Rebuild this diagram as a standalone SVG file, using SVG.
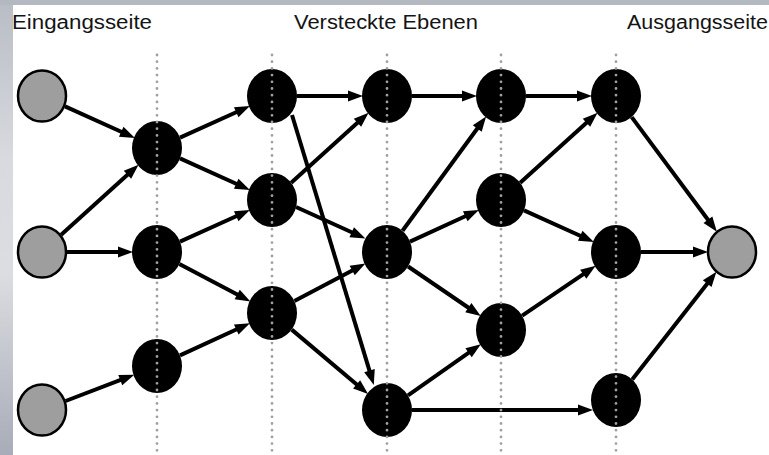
<svg xmlns="http://www.w3.org/2000/svg" width="769" height="455" viewBox="0 0 769 455">
  <defs>
    <linearGradient id="side" x1="0" y1="0" x2="0" y2="1">
      <stop offset="0" stop-color="#b8bcc4"/>
      <stop offset="0.35" stop-color="#d8dadf"/>
      <stop offset="0.6" stop-color="#dcdde1"/>
      <stop offset="1" stop-color="#a8acb8"/>
    </linearGradient>
    <marker id="arr" markerUnits="userSpaceOnUse" markerWidth="18" markerHeight="12" refX="6" refY="5.5" orient="auto" overflow="visible">
      <path d="M0,0 L15,5.5 L0,11 z" fill="#000"/>
    </marker>
    <style>
      .lbl { font-family: "Liberation Sans", Arial, sans-serif; font-size: 20px; fill: #141414; }
      .hid { fill: #000; }
      .io { fill: #9e9e9e; stroke: #000; stroke-width: 2.5; }
      .edge { stroke: #000; stroke-width: 4; fill: none; marker-end: url(#arr); }
      .dots { stroke: #a0a0a0; stroke-width: 2.8; stroke-linecap: round; stroke-dasharray: 0 6.7; fill: none; }
    </style>
  </defs>

  <!-- frame -->
  <rect x="0" y="0" width="769" height="455" fill="#ffffff"/>
  <rect x="0" y="0" width="13" height="455" fill="url(#side)"/>
  <rect x="0" y="0" width="769" height="5" fill="#b4b8c0"/>

  <!-- labels -->
  <g id="labels">
    <text class="lbl" x="12" y="29" textLength="140" lengthAdjust="spacingAndGlyphs">Eingangsseite</text>
    <text class="lbl" x="294" y="29" textLength="184" lengthAdjust="spacingAndGlyphs">Versteckte Ebenen</text>
    <text class="lbl" x="627" y="29" textLength="141" lengthAdjust="spacingAndGlyphs">Ausgangsseite</text>
  </g>

  <!-- connectors -->
  <g id="connectors">
    <line class="edge" x1="65" y1="106.4" x2="126.7" y2="134.3"/>
    <line class="edge" x1="61.2" y1="234.7" x2="131.9" y2="170.7"/>
    <line class="edge" x1="67" y1="252" x2="124" y2="252"/>
    <line class="edge" x1="65.6" y1="401" x2="125.9" y2="377.9"/>

    <line class="edge" x1="180" y1="137.6" x2="241.7" y2="109.7"/>
    <line class="edge" x1="180" y1="158.4" x2="241.7" y2="186.3"/>
    <line class="edge" x1="180" y1="241.6" x2="241.7" y2="213.7"/>
    <line class="edge" x1="179.4" y1="263.9" x2="242.5" y2="297.3"/>
    <line class="edge" x1="180" y1="355.4" x2="241.7" y2="327"/>

    <line class="edge" x1="297" y1="96" x2="354" y2="96"/>
    <line class="edge" x1="292" y1="115" x2="371.2" y2="376.3"/>
    <line class="edge" x1="291.2" y1="182.7" x2="361.9" y2="118.7"/>
    <line class="edge" x1="296" y1="207" x2="357.2" y2="234.7"/>
    <line class="edge" x1="294.4" y1="301.1" x2="357.5" y2="267.7"/>
    <line class="edge" x1="291.7" y1="329.6" x2="361.2" y2="388.2"/>

    <line class="edge" x1="412" y1="96" x2="468" y2="96"/>
    <line class="edge" x1="402.5" y1="230.8" x2="480.8" y2="123.7"/>
    <line class="edge" x1="410" y1="241.6" x2="470.7" y2="213.7"/>
    <line class="edge" x1="408.1" y1="266.5" x2="473.3" y2="311"/>
    <line class="edge" x1="408" y1="395.3" x2="473.5" y2="349.3"/>
    <line class="edge" x1="412" y1="410" x2="584" y2="410"/>

    <line class="edge" x1="526" y1="96" x2="583" y2="96"/>
    <line class="edge" x1="520.2" y1="182.7" x2="590.9" y2="118.7"/>
    <line class="edge" x1="524" y1="210.4" x2="585.7" y2="238.3"/>
    <line class="edge" x1="522.2" y1="315.6" x2="588.2" y2="270.9"/>

    <line class="edge" x1="631.7" y1="117.1" x2="711.5" y2="224.5"/>
    <line class="edge" x1="641" y1="252" x2="699" y2="252"/>
    <line class="edge" x1="632.2" y1="379.4" x2="710.9" y2="278.9"/>
  </g>

  <!-- input nodes -->
  <g id="in1"><ellipse class="io" cx="42" cy="96" rx="24" ry="25.5"/></g>
  <g id="in2"><ellipse class="io" cx="42" cy="252" rx="24" ry="25.5"/></g>
  <g id="in3"><ellipse class="io" cx="42" cy="410" rx="24" ry="25.5"/></g>

  <!-- hidden layer 1 -->
  <g id="h1a"><ellipse class="hid" cx="157" cy="148" rx="25" ry="27"/></g>
  <g id="h1b"><ellipse class="hid" cx="157" cy="252" rx="25" ry="27"/></g>
  <g id="h1c"><ellipse class="hid" cx="157" cy="366" rx="25" ry="27"/></g>

  <!-- hidden layer 2 -->
  <g id="h2a"><ellipse class="hid" cx="272" cy="96" rx="25" ry="27"/></g>
  <g id="h2b"><ellipse class="hid" cx="272" cy="200" rx="25" ry="27"/></g>
  <g id="h2c"><ellipse class="hid" cx="272" cy="313" rx="25" ry="27"/></g>

  <!-- hidden layer 3 -->
  <g id="h3a"><ellipse class="hid" cx="387" cy="96" rx="25" ry="27"/></g>
  <g id="h3b"><ellipse class="hid" cx="387" cy="252" rx="25" ry="27"/></g>
  <g id="h3c"><ellipse class="hid" cx="387" cy="410" rx="25" ry="27"/></g>

  <!-- hidden layer 4 -->
  <g id="h4a"><ellipse class="hid" cx="501" cy="96" rx="25" ry="27"/></g>
  <g id="h4b"><ellipse class="hid" cx="501" cy="200" rx="25" ry="27"/></g>
  <g id="h4c"><ellipse class="hid" cx="501" cy="330" rx="25" ry="27"/></g>

  <!-- hidden layer 5 -->
  <g id="h5a"><ellipse class="hid" cx="616" cy="96" rx="25" ry="27"/></g>
  <g id="h5b"><ellipse class="hid" cx="616" cy="252" rx="25" ry="27"/></g>
  <g id="h5c"><ellipse class="hid" cx="616" cy="400" rx="25" ry="27"/></g>

  <!-- output node -->
  <g id="out1"><ellipse class="io" cx="732" cy="252" rx="24" ry="25.5"/></g>

  <!-- dotted layer guides -->
  <g id="guides">
    <line class="dots" x1="157" y1="55" x2="157" y2="455"/>
    <line class="dots" x1="272" y1="55" x2="272" y2="455"/>
    <line class="dots" x1="387" y1="55" x2="387" y2="455"/>
    <line class="dots" x1="501" y1="55" x2="501" y2="455"/>
    <line class="dots" x1="616" y1="55" x2="616" y2="455"/>
  </g>
</svg>
